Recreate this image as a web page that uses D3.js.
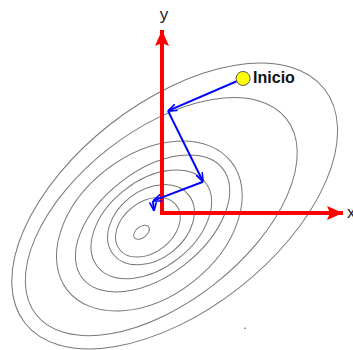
<!DOCTYPE html>
<html lang="es">
<head>
    <meta charset="UTF-8">
    <title>Descenso de gradiente</title>
    <script src="https://d3js.org/d3.v7.min.js"></script>
    <style>
        body { margin: 0; background: #fff; }
        .ring { fill: none; stroke: #777; stroke-width: 1px; }
        .axis-line { stroke: #ff0000; stroke-width: 4px; }
        .step { stroke: #0000ff; stroke-width: 2px; fill: none; }
        text { font-family: "Liberation Sans", Arial, sans-serif; }
    </style>
</head>
<body>
    <svg width="353" height="350"></svg>

    <script>
        // contour rings (data units, origin at axes corner), innermost first
        const ringCx = [-1.13, -0.78, -0.61, -0.59, -0.52, -0.70, -0.04, 0.70];
        const ringCy = [-1.05, -0.78, -0.64, -0.62, -0.57, -0.71, -0.20, 0.38];
        const ringRx = [0.50, 1.99, 2.65, 3.78, 4.92, 5.75, 8.78, 10.50];
        const ringRy = [0.30, 1.38, 1.88, 2.38, 2.85, 3.87, 4.70, 5.69];
        const ringTilt = 38; // degrees

        // descent steps, starting at "Inicio"
        const stepX = [4.48, 0.33, 2.27, -0.50, -0.44];
        const stepY = [7.35, 5.58, 1.71, 0.66, 0.11];

        const axisMax = 10;
        const axisLabels = ["x", "y"];
        const startLabel = "Inicio";

        const svg = d3.select("svg");

        const x = d3.scaleLinear().domain([0, axisMax]).range([162, 343]);
        const y = d3.scaleLinear().domain([0, axisMax]).range([213, 30]);
        const ux = x(1) - x(0), uy = y(0) - y(1);

        const defs = svg.append("defs");
        defs.append("marker")
            .attr("id", "redArrow")
            .attr("viewBox", "0 -7 16 14")
            .attr("refX", 16).attr("refY", 0)
            .attr("markerWidth", 16).attr("markerHeight", 14)
            .attr("markerUnits", "userSpaceOnUse")
            .attr("orient", "auto")
            .append("path")
            .attr("d", "M0,-7L16,0L0,7L3,0Z")
            .attr("fill", "#ff0000");
        defs.append("marker")
            .attr("id", "blueArrow")
            .attr("viewBox", "0 -4 9 8")
            .attr("refX", 9).attr("refY", 0)
            .attr("markerWidth", 9).attr("markerHeight", 8)
            .attr("markerUnits", "userSpaceOnUse")
            .attr("orient", "auto")
            .append("path")
            .attr("d", "M0,-3.5L9,0L0,3.5")
            .attr("fill", "none")
            .attr("stroke", "#0000ff")
            .attr("stroke-width", 1.6);

        // contour lines
        svg.append("g")
            .selectAll("ellipse")
            .data(d3.range(ringCx.length))
            .enter().append("ellipse")
            .attr("class", "ring")
            .attr("cx", i => x(ringCx[i]))
            .attr("cy", i => y(ringCy[i]))
            .attr("rx", i => ringRx[i] * ux)
            .attr("ry", i => ringRy[i] * uy)
            .attr("transform", i => `rotate(${-ringTilt},${x(ringCx[i])},${y(ringCy[i])})`);

        // small speck in the original
        svg.append("circle")
            .attr("cx", x(4.59)).attr("cy", y(-6.30)).attr("r", 0.8)
            .attr("fill", "#555");

        // red axes
        svg.append("line").attr("class", "axis-line")
            .attr("x1", x(0)).attr("y1", y(0))
            .attr("x2", x(axisMax)).attr("y2", y(0))
            .attr("marker-end", "url(#redArrow)");
        svg.append("line").attr("class", "axis-line")
            .attr("x1", x(0)).attr("y1", y(0) + 2)
            .attr("x2", x(0)).attr("y2", y(axisMax))
            .attr("marker-end", "url(#redArrow)");

        svg.append("text")
            .attr("x", x(axisMax) + 4).attr("y", y(0) + 5)
            .attr("font-size", 17).attr("fill", "#222")
            .text(axisLabels[0]);
        svg.append("text")
            .attr("x", x(0) + 2).attr("y", y(axisMax) - 10)
            .attr("font-size", 17).attr("fill", "#222")
            .attr("text-anchor", "middle")
            .text(axisLabels[1]);

        // blue descent path, one arrow per step
        svg.append("g")
            .selectAll("line")
            .data(d3.range(stepX.length - 1))
            .enter().append("line")
            .attr("class", "step")
            .attr("x1", i => x(stepX[i])).attr("y1", i => y(stepY[i]))
            .attr("x2", i => x(stepX[i + 1])).attr("y2", i => y(stepY[i + 1]))
            .attr("marker-end", "url(#blueArrow)");

        // start point
        svg.append("circle")
            .attr("cx", x(stepX[0])).attr("cy", y(stepY[0])).attr("r", 7)
            .attr("fill", "#ffff00").attr("stroke", "#555").attr("stroke-width", 1);
        svg.append("text")
            .attr("x", x(stepX[0]) + 10).attr("y", y(stepY[0]) + 5)
            .attr("font-size", 16).attr("font-weight", "bold").attr("fill", "#111")
            .text(startLabel);
    </script>
</body>
</html>
